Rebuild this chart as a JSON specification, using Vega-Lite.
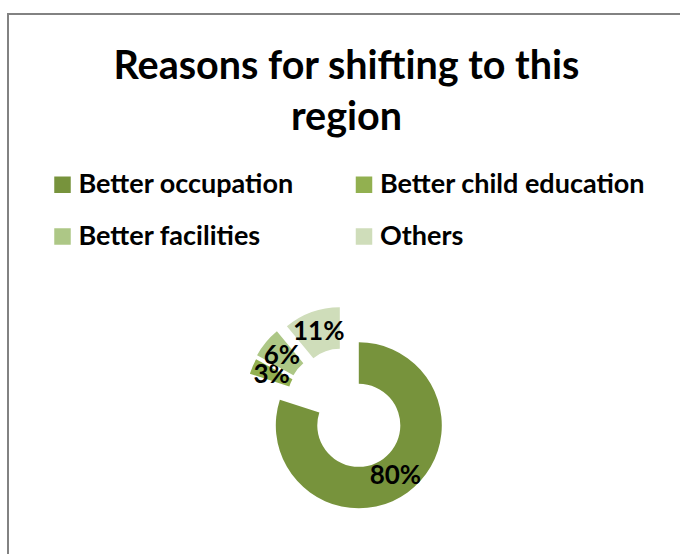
{
  "$schema": "https://vega.github.io/schema/vega-lite/v6.json",
  "width": 677,
  "height": 546,
  "autosize": {"type": "none"},
  "padding": {"left": 8, "top": 14, "right": -5, "bottom": -6},
  "background": "white",
  "config": {
    "view": {"stroke": null},
    "font": "Lato"
  },
  "title": {
    "text": ["Reasons for shifting to this", "region"],
    "font": "Lato",
    "fontSize": 39.5,
    "fontWeight": "bold",
    "color": "#000000",
    "anchor": "middle",
    "frame": "group",
    "baseline": "alphabetic",
    "offset": -156,
    "lineHeight": 51
  },
  "data": {
    "values": [
      {"reason": "Better occupation", "share": 80},
      {"reason": "Better child education", "share": 3},
      {"reason": "Better facilities", "share": 6},
      {"reason": "Others", "share": 11}
    ]
  },
  "transform": [
    {"stack": "share", "groupby": [], "as": ["start", "end"]},
    {"calculate": "(datum.start + datum.end) / 2", "as": "mid"},
    {"calculate": "datum.share + '%'", "as": "label"}
  ],
  "layer": [
    {
      "transform": [{"aggregate": [{"op": "count", "as": "n"}]}],
      "mark": {"type": "rect", "filled": false, "stroke": "#828282", "strokeWidth": 2},
      "encoding": {}
    },
    {
      "encoding": {
        "theta": {"field": "start", "type": "quantitative", "scale": {"domain": [0, 100], "range": [0, 6.283185307179586]}},
        "color": {
          "field": "reason",
          "type": "nominal",
          "scale": {
            "domain": ["Better occupation", "Better child education", "Better facilities", "Others"],
            "range": ["#77933C", "#92B050", "#ADC786", "#CFDDBA"]
          },
          "legend": {
            "title": null,
            "orient": "none",
            "legendX": 41,
            "legendY": 157,
            "direction": "horizontal",
            "columns": 2,
            "columnPadding": 56.5,
            "rowPadding": 24,
            "symbolType": "square",
            "symbolSize": 272,
            "symbolStrokeWidth": 0,
            "symbolOpacity": 1,
            "labelFont": "Lato",
            "labelFontSize": 27,
            "labelFontWeight": "bold",
            "labelColor": "#000000",
            "labelOffset": 2.5,
            "labelLimit": 400
          }
        }
      },
      "layer": [
        {
          "transform": [{"filter": "datum.reason === 'Better occupation'"}],
          "layer": [
            {
              "mark": {"type": "arc", "radius": 83, "radius2": 41.5, "x": {"expr": "width / 2 + 12.3"}, "y": {"expr": "height * 0.7533"}},
              "encoding": {"theta2": {"field": "end"}}
            },
            {
              "mark": {"type": "text", "radius": 62.25, "x": {"expr": "width / 2 + 12.3"}, "y": {"expr": "height * 0.7533"}, "fontSize": 26, "fontWeight": "bold"},
              "encoding": {"theta": {"field": "mid", "type": "quantitative"}, "text": {"field": "label"}, "color": {"value": "#000000"}}
            }
          ]
        },
        {
          "transform": [{"filter": "datum.reason === 'Better child education'"}],
          "layer": [
            {
              "mark": {"type": "arc", "radius": 83, "radius2": 41.5, "x": {"expr": "width / 2 + 12.3"}, "y": {"expr": "height * 0.7533"}, "xOffset": -30, "yOffset": -26},
              "encoding": {"theta2": {"field": "end"}}
            },
            {
              "mark": {"type": "text", "radius": 62.25, "x": {"expr": "width / 2 + 12.3"}, "y": {"expr": "height * 0.7533"}, "xOffset": -30, "yOffset": -26, "fontSize": 26, "fontWeight": "bold"},
              "encoding": {"theta": {"field": "mid", "type": "quantitative"}, "text": {"field": "label"}, "color": {"value": "#000000"}}
            }
          ]
        },
        {
          "transform": [{"filter": "datum.reason === 'Better facilities'"}],
          "layer": [
            {
              "mark": {"type": "arc", "radius": 83, "radius2": 41.5, "x": {"expr": "width / 2 + 12.3"}, "y": {"expr": "height * 0.7533"}, "xOffset": -29, "yOffset": -30},
              "encoding": {"theta2": {"field": "end"}}
            },
            {
              "mark": {"type": "text", "radius": 62.25, "x": {"expr": "width / 2 + 12.3"}, "y": {"expr": "height * 0.7533"}, "xOffset": -29, "yOffset": -30, "fontSize": 26, "fontWeight": "bold"},
              "encoding": {"theta": {"field": "mid", "type": "quantitative"}, "text": {"field": "label"}, "color": {"value": "#000000"}}
            }
          ]
        },
        {
          "transform": [{"filter": "datum.reason === 'Others'"}],
          "layer": [
            {
              "mark": {"type": "arc", "radius": 83, "radius2": 41.5, "x": {"expr": "width / 2 + 12.3"}, "y": {"expr": "height * 0.7533"}, "xOffset": -19, "yOffset": -35},
              "encoding": {"theta2": {"field": "end"}}
            },
            {
              "mark": {"type": "text", "radius": 62.25, "x": {"expr": "width / 2 + 12.3"}, "y": {"expr": "height * 0.7533"}, "xOffset": -19, "yOffset": -35, "fontSize": 26, "fontWeight": "bold"},
              "encoding": {"theta": {"field": "mid", "type": "quantitative"}, "text": {"field": "label"}, "color": {"value": "#000000"}}
            }
          ]
        }
      ]
    }
  ]
}
